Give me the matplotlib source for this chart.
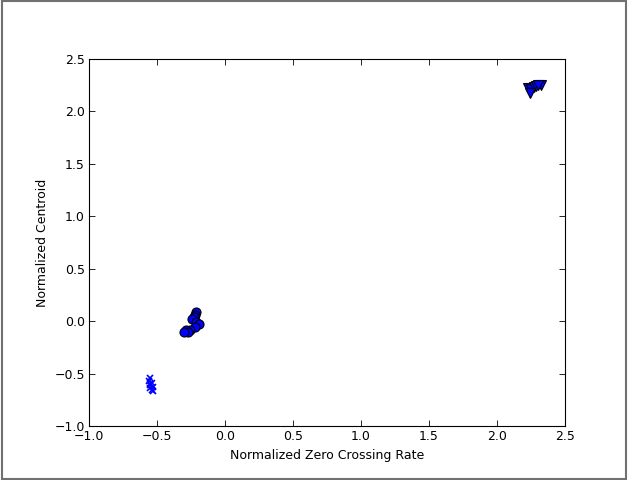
import matplotlib
matplotlib.use("Agg")
import matplotlib.pyplot as plt
from matplotlib.patches import Rectangle

# cluster 1: crosses
zcr_x = [-0.55, -0.56, -0.54, -0.55, -0.53, -0.55, -0.54, -0.53, -0.55]
cen_x = [-0.54, -0.57, -0.59, -0.61, -0.63, -0.64, -0.66, -0.67, -0.60]

# cluster 2: circles
zcr_o = [-0.21, -0.22, -0.23, -0.24, -0.21, -0.19, -0.22, -0.26, -0.29, -0.27, -0.30]
cen_o = [0.09, 0.06, 0.04, 0.02, -0.01, -0.03, -0.06, -0.08, -0.08, -0.10, -0.10]

# cluster 3: triangles
zcr_v = [2.23, 2.25, 2.27, 2.29, 2.32, 2.24, 2.30]
cen_v = [2.22, 2.21, 2.23, 2.24, 2.25, 2.18, 2.25]

plt.rcParams["font.family"] = "DejaVu Sans"
plt.rcParams["font.size"] = 9
plt.rcParams["xtick.direction"] = "in"
plt.rcParams["ytick.direction"] = "in"

fig = plt.figure(figsize=(6.28, 4.8), dpi=100)
ax = fig.add_axes([0.1417, 0.1125, 0.758, 0.7646])

ax.plot(zcr_x, cen_x, "x", color="b", ms=5, mew=1.2, ls="none")
ax.plot(zcr_o, cen_o, "o", color="b", mec="k", ms=6.5, mew=0.8, ls="none")
ax.plot(zcr_v, cen_v, "v", color="b", mec="k", ms=6.5, mew=0.8, ls="none")

ax.set_xlim(-1.0, 2.5)
ax.set_ylim(-1.0, 2.5)
ax.set_xticks([-1.0, -0.5, 0.0, 0.5, 1.0, 1.5, 2.0, 2.5])
ax.set_yticks([-1.0, -0.5, 0.0, 0.5, 1.0, 1.5, 2.0, 2.5])
ax.tick_params(top=True, right=True, length=4, width=0.6, pad=3)
ax.set_xlabel("Normalized Zero Crossing Rate")
ax.set_ylabel("Normalized Centroid")

# grey frame around the whole picture
fig.patches.append(Rectangle((0.003, 0.003), 0.994, 0.994, transform=fig.transFigure,
                             fill=False, edgecolor="#707070", lw=1.5))

fig.savefig("out.png", dpi=100)
